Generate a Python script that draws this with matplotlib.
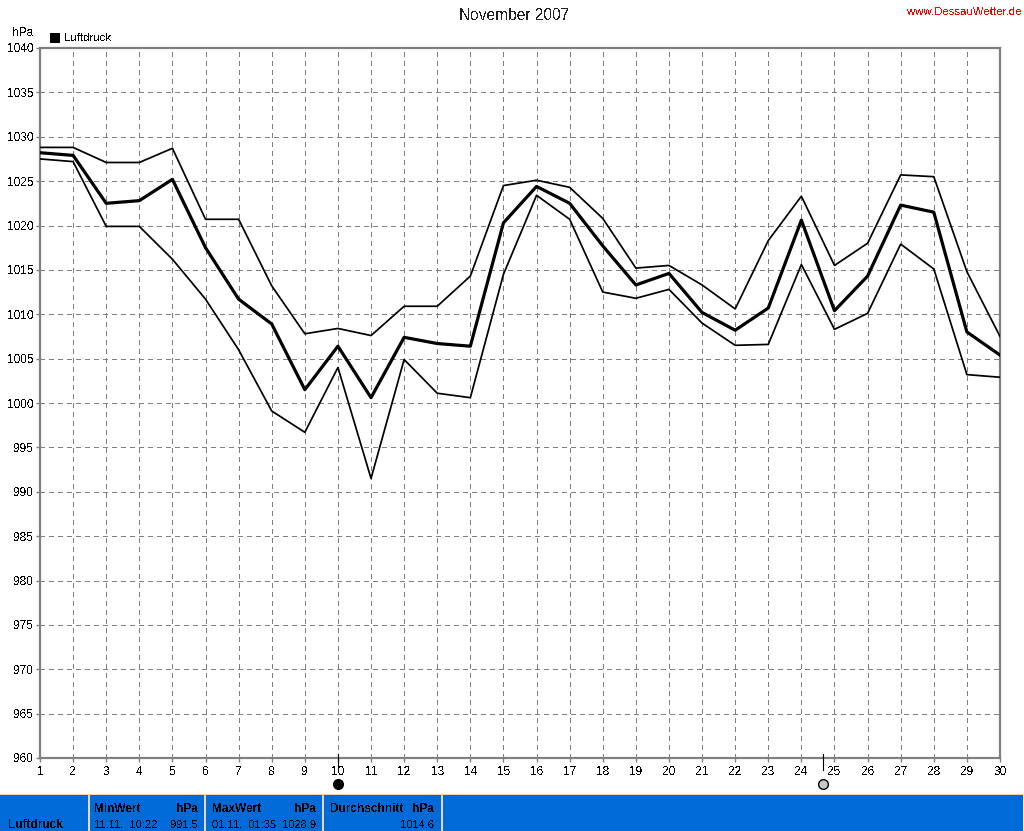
import matplotlib
matplotlib.use("Agg")
import matplotlib.pyplot as plt
from matplotlib.patches import Rectangle

plt.rcParams['font.family'] = ['Liberation Sans', 'DejaVu Sans']
plt.rcParams['text.antialiased'] = False

days = list(range(1, 31))
p_max = [1028.8, 1028.8, 1027.1, 1027.1, 1028.7, 1020.7, 1020.7, 1013.2, 1007.8, 1008.4,
         1007.6, 1010.9, 1010.9, 1014.3, 1024.5, 1025.1, 1024.3, 1020.8, 1015.2, 1015.5,
         1013.3, 1010.6, 1018.3, 1023.3, 1015.5, 1018.0, 1025.7, 1025.5, 1014.8, 1007.5]
p_avg = [1028.2, 1027.9, 1022.5, 1022.8, 1025.2, 1017.5, 1011.7, 1008.9, 1001.5, 1006.4,
         1000.6, 1007.4, 1006.7, 1006.4, 1020.3, 1024.4, 1022.5, 1017.7, 1013.3, 1014.6,
         1010.2, 1008.2, 1010.7, 1020.6, 1010.4, 1014.3, 1022.3, 1021.5, 1008.0, 1005.4]
p_min = [1027.5, 1027.2, 1019.9, 1019.9, 1016.2, 1011.7, 1006.0, 999.1, 996.7, 1004.0,
         991.5, 1004.9, 1001.1, 1000.6, 1014.5, 1023.4, 1020.7, 1012.5, 1011.8, 1012.8,
         1009.0, 1006.5, 1006.6, 1015.6, 1008.3, 1010.1, 1017.9, 1015.1, 1003.2, 1002.9]
y_ticks = list(range(960, 1041, 5))
moon_days = [10, 24.65]
moon_faces = ["black", "#c8c8c8"]

W, H = 1024, 831
fig = plt.figure(figsize=(W / 100, H / 100), dpi=100)
ax = fig.add_axes([40 / W, 1 - 758 / H, 960 / W, 710 / H])

# thin lines for min/max, thick one for the mean
ax.plot(days, p_max, color="black", lw=1.25, zorder=3)
ax.plot(days, p_min, color="black", lw=1.25, zorder=3)
ax.plot(days, p_avg, color="black", lw=2.3, zorder=4)

ax.set_xlim(1, 30)
ax.set_ylim(960, 1040)
ax.set_xticks(days)
ax.set_yticks(y_ticks)
ax.tick_params(axis="x", labelsize=8.6, length=3, width=1, color="#808080", pad=3)
ax.tick_params(axis="y", labelsize=8.6, length=3, width=1, color="#808080", pad=2)
ax.grid(True, color="#808080", lw=0.8, linestyle=(0, (4, 4)), antialiased=False)
ax.set_axisbelow(True)
for s in ax.spines.values():
    s.set_color("#808080")
    s.set_linewidth(1.6)

# moon phases under the axis
for d, c in zip(moon_days, moon_faces):
    ax.plot([d, d], [960.4, 958.7], color="black", lw=0.8, clip_on=False, zorder=5)
    ax.plot([d], [957.1], marker="o", ms=7, mfc=c, mec="black", mew=1.0, clip_on=False, zorder=5)


def put(x, y, s, **kw):
    kw.setdefault("fontsize", 8.4)
    kw.setdefault("va", "center")
    return fig.text(x / W, 1 - y / H, s, **kw)


put(514, 15, "November 2007", fontsize=11.2, ha="center", color="#202020")
put(907, 12, "www.DessauWetter.de", color="#ff0000", fontsize=8.2)
put(12, 33, "hPa", fontsize=8.6)
put(64, 38, "Luftdruck", fontsize=8.2)
fig.add_artist(Rectangle((50 / W, 1 - 43 / H), 10 / W, 10 / H, transform=fig.transFigure,
                         fc="black", ec="none"))

# blue table at the bottom
fig.add_artist(Rectangle((0, 0), 1023 / W, 36 / H, transform=fig.transFigure,
                         fc="#006AD8", ec="none"))
fig.add_artist(Rectangle((0, 36 / H), 1023 / W, 1 / H, transform=fig.transFigure,
                         fc="#E8D8A8", ec="none"))
for sx in [88, 204, 322, 441]:
    fig.add_artist(Rectangle((sx / W, 0), 2 / W, 36 / H, transform=fig.transFigure,
                             fc="#E8D8A8", ec="none"))

put(8, 825, "Luftdruck", fontweight="bold", fontsize=8.6)
put(94, 809, "MinWert", fontweight="bold", fontsize=8.6)
put(198, 809, "hPa", fontweight="bold", ha="right", fontsize=8.6)
put(94, 825, "11.11.  10:22", fontsize=8)
put(198, 825, "991.5", ha="right", fontsize=8)
put(212, 809, "MaxWert", fontweight="bold", fontsize=8.6)
put(316, 809, "hPa", fontweight="bold", ha="right", fontsize=8.6)
put(212, 825, "01.11.  01:35", fontsize=8)
put(316, 825, "1028.9", ha="right", fontsize=8)
put(330, 809, "Durchschnitt", fontweight="bold", fontsize=8.6)
put(434, 809, "hPa", fontweight="bold", ha="right", fontsize=8.6)
put(434, 825, "1014.6", ha="right", fontsize=8)

fig.savefig("out.png", dpi=100)
